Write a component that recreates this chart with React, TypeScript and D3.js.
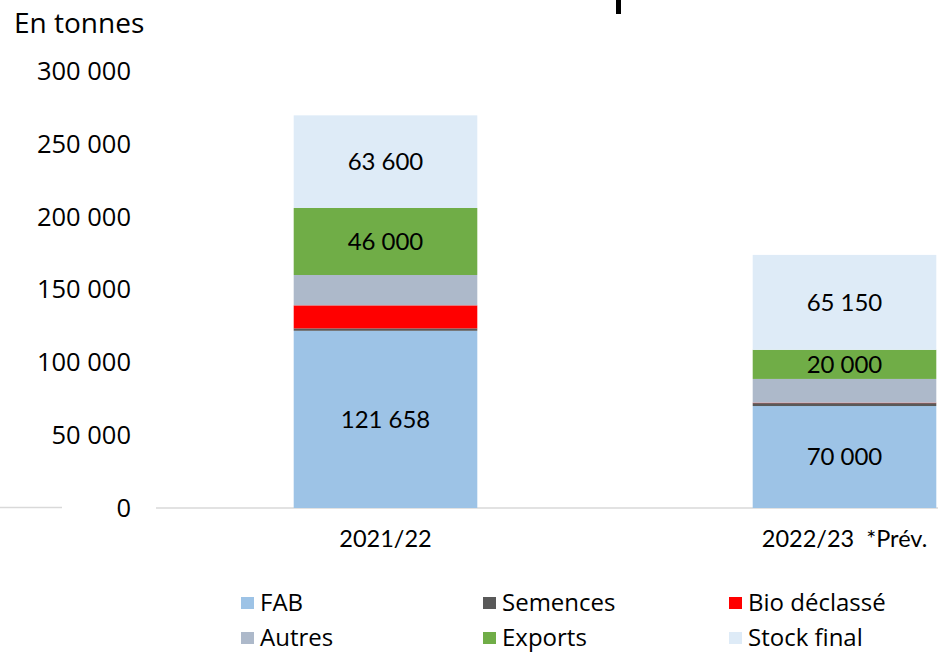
import React, { useEffect, useRef } from 'react'
import * as d3 from 'd3'

const categories = ['2021/22', '2022/23']
const categoryLabels = ['2021/22', '2022/23  *Prév.']
const seriesNames = ['FAB', 'Semences', 'Bio déclassé', 'Autres', 'Exports', 'Stock final']
const seriesColors = ['#9dc3e6', '#595959', '#ff0000', '#adb9ca', '#70ad47', '#deebf7']
const fab = [121658, 70000]
const semences = [1650, 2000]
const bioDeclasse = [15800, 300]
const autres = [20850, 16300]
const exportsT = [46000, 20000]
const stockFinal = [63600, 65150]
const labelled = ['FAB', 'Exports', 'Stock final']
const yTicks = [0, 50000, 100000, 150000, 200000, 250000, 300000]

export default function App() {
  const ref = useRef<SVGSVGElement>(null)

  useEffect(() => {
    const width = 938
    const svg = d3.select(ref.current)
    svg.selectAll('*').remove()

    const rows = categories.map((c, i) => ({
      cat: c,
      FAB: fab[i],
      Semences: semences[i],
      'Bio déclassé': bioDeclasse[i],
      Autres: autres[i],
      Exports: exportsT[i],
      'Stock final': stockFinal[i],
    }))

    const x = d3.scaleBand().domain(categories).range([156, 1074]).paddingInner(0.6).paddingOuter(0.3)
    const y = d3.scaleLinear().domain([0, 300000]).range([508, 71])
    const color = d3.scaleOrdinal<string, string>().domain(seriesNames).range(seriesColors)

    const stack = d3.stack<any>().keys(seriesNames)
    const layers = stack(rows)

    const fmtTick = (v: number) => d3.format(',')(v).replace(/,/g, ' ')
    const fmtLabel = (v: number) => d3.format(',')(v).replace(/,/g, '\u202F')

    // title fragment at top (cropped)
    svg.append('rect').attr('x', 616).attr('y', 0).attr('width', 5).attr('height', 14).attr('fill', '#000')

    svg.append('text')
      .attr('x', 14).attr('y', 23).attr('dy', '0.35em')
      .attr('font-family', 'Open Sans').attr('font-size', 28)
      .attr('fill', '#000')
      .text('En tonnes')

    // axis lines
    svg.append('line').attr('x1', 0).attr('x2', 62).attr('y1', y(0) - 0.5).attr('y2', y(0) - 0.5)
      .attr('stroke', '#d9d9d9').attr('stroke-width', 1.5)
    svg.append('line').attr('x1', 156).attr('x2', width).attr('y1', y(0)).attr('y2', y(0))
      .attr('stroke', '#d9d9d9').attr('stroke-width', 1.5)

    svg.append('g')
      .selectAll('text')
      .data(yTicks)
      .join('text')
      .attr('x', 131)
      .attr('y', d => y(d))
      .attr('dy', '0.35em')
      .attr('text-anchor', 'end')
      .attr('font-family', 'Open Sans')
      .attr('font-size', 25.5)
      .attr('fill', '#000')
      .text(d => fmtTick(d))

    // bars
    const g = svg.append('g')
    layers.forEach(layer => {
      g.append('g')
        .attr('fill', color(layer.key))
        .selectAll('rect')
        .data(layer)
        .join('rect')
        .attr('x', d => x(d.data.cat)!)
        .attr('width', x.bandwidth())
        .attr('y', d => y(d[1]))
        .attr('height', d => y(d[0]) - y(d[1]))
    })

    // data labels
    layers.filter(l => labelled.includes(l.key)).forEach(layer => {
      g.append('g')
        .selectAll('text')
        .data(layer)
        .join('text')
        .attr('x', d => x(d.data.cat)! + x.bandwidth() / 2)
        .attr('y', d => (y(d[0]) + y(d[1])) / 2)
        .attr('dy', '0.35em')
        .attr('text-anchor', 'middle')
        .attr('font-family', 'Lato')
        .attr('font-size', 24)
        .attr('fill', '#000')
        .text(d => fmtLabel(d[1] - d[0]))
    })

    // category labels
    svg.append('g')
      .selectAll('text')
      .data(categories)
      .join('text')
      .attr('x', d => x(d)! + x.bandwidth() / 2)
      .attr('y', 539)
      .attr('dy', '0.35em')
      .attr('text-anchor', 'middle')
      .attr('font-family', 'Lato')
      .attr('font-size', 23.5)
      .style('white-space', 'pre')
      .attr('fill', '#000')
      .text((d, i) => categoryLabels[i])

    // legend
    const colX = [241, 483, 729]
    const rowY = [603, 638]
    const leg = svg.append('g')
      .selectAll('g')
      .data(seriesNames)
      .join('g')
      .attr('transform', (d, i) => `translate(${colX[i % 3]},${rowY[Math.floor(i / 3)]})`)
    leg.append('rect').attr('x', 0).attr('y', -6).attr('width', 13).attr('height', 12)
      .attr('fill', d => color(d))
    leg.append('text')
      .attr('x', 19).attr('y', 0).attr('dy', '0.35em')
      .attr('font-family', 'Open Sans').attr('font-size', 24)
      .attr('fill', '#000')
      .text(d => d)
  }, [])

  return (
    <svg ref={ref} width={938} height={654}
      style={{ position: 'absolute', left: 0, top: 0, background: '#fff' }} />
  )
}
